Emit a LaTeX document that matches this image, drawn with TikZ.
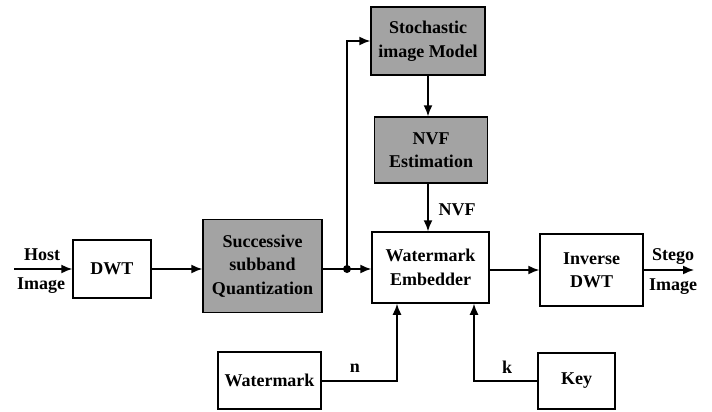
\documentclass[tikz,border=0pt]{standalone}
\usepackage{fontspec}
\setmainfont{Liberation Serif}
\usetikzlibrary{arrows.meta}
\begin{document}
\begin{tikzpicture}[x=1pt,y=-1pt,
  blk/.style={draw,line width=1.5pt,align=center,inner sep=0pt,font=\bfseries\fontsize{18}{23.5}\selectfont},
  shaded/.style={blk,fill=black!36},
  lbl/.style={font=\bfseries\fontsize{18}{23.5}\selectfont,inner sep=0pt},
  conn/.style={line width=1.5pt},
  arr/.style={conn,-{Latex[length=11pt,width=9pt]}}]
\useasboundingbox (0,0) rectangle (712,412);
\node[blk,minimum width=78pt,minimum height=58pt] (dwt) at (112,269) {DWT};
\node[shaded,minimum width=119pt,minimum height=93pt] (ssq) at (262.5,266) {Successive\\subband\\Quantization};
\node[shaded,minimum width=114pt,minimum height=68pt] (sim) at (428,41) {Stochastic\\image Model};
\node[shaded,minimum width=113pt,minimum height=66pt] (nvf) at (431,150) {NVF\\Estimation};
\node[blk,minimum width=117pt,minimum height=71pt] (we) at (430.5,267.5) {Watermark\\Embedder};
\node[blk,minimum width=103pt,minimum height=72pt] (idwt) at (591.5,270) {Inverse\\DWT};
\node[blk,minimum width=103pt,minimum height=57pt] (wm) at (269.5,380.5) {Watermark};
\node[blk,minimum width=77pt,minimum height=56pt] (key) at (576.5,381) {Key};
\coordinate (in) at (14,269);
\coordinate (out) at (694,270);
\coordinate (j) at (347,269);
\coordinate (nb) at (397,381);
\coordinate (kb) at (474,381);
\draw[arr] (in) -- (in -| dwt.west);
\node[lbl] (host) at (42,255) {Host};
\node[lbl] (himg) at (41,286) {Image};
\draw[arr] (dwt.east |- in) -- (ssq.west |- in);
\draw[conn] (ssq.east |- j) -- (j);
\fill (j) circle (4pt);
\draw[arr] (j) -- (j -| we.west);
\draw[arr] (j) |- (sim.west);
\draw[arr] (sim.south) -- (sim.south |- nvf.north);
\draw[arr] (nvf.south -| sim.south) -- (sim.south |- we.north);
\node[lbl] (nvfl) at (457,210) {NVF};
\draw[arr] (we.east |- idwt.west) -- (idwt.west);
\draw[arr] (idwt.east) -- (out);
\node[lbl] (stego) at (673,257) {Stego};
\node[lbl] (simg) at (673,287) {Image};
\draw[arr] (wm.east |- nb) -- (nb) -- (nb |- we.south);
\node[lbl] (nl) at (355,368) {n};
\draw[arr] (key.west |- kb) -- (kb) -- (kb |- we.south);
\node[lbl] (kl) at (507,367) {k};
\end{tikzpicture}
\end{document}
